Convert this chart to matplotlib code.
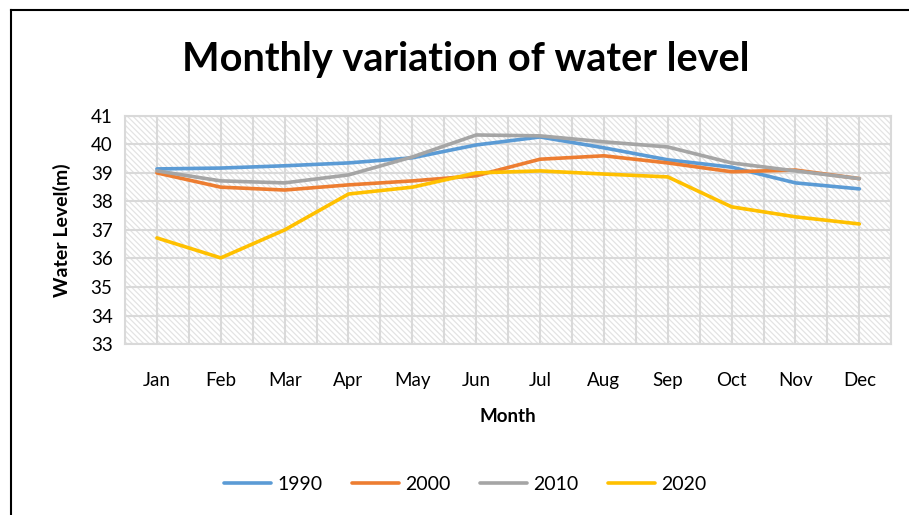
import matplotlib.pyplot as plt
from matplotlib.patches import Rectangle
from matplotlib.lines import Line2D

months = ["Jan", "Feb", "Mar", "Apr", "May", "Jun", "Jul", "Aug", "Sep", "Oct", "Nov", "Dec"]
y1990 = [39.14, 39.17, 39.25, 39.35, 39.53, 39.98, 40.26, 39.88, 39.46, 39.20, 38.65, 38.44]
y2000 = [39.00, 38.50, 38.40, 38.58, 38.72, 38.90, 39.48, 39.60, 39.35, 39.04, 39.10, 38.80]
y2010 = [39.07, 38.72, 38.65, 38.93, 39.56, 40.33, 40.30, 40.09, 39.91, 39.35, 39.07, 38.80]
y2020 = [36.72, 36.02, 37.00, 38.26, 38.50, 39.00, 39.07, 38.96, 38.86, 37.81, 37.46, 37.21]

series = [("1990", y1990, "#5B9BD5"), ("2000", y2000, "#ED7D31"),
          ("2010", y2010, "#A5A5A5"), ("2020", y2020, "#FFC000")]

plt.rcParams['font.family'] = ['Lato', 'DejaVu Sans']
plt.rcParams['hatch.linewidth'] = 0.9

fig = plt.figure(figsize=(9.09, 5.15), dpi=100)
ax = fig.add_axes([0.1375, 0.332, 0.843, 0.443])

x = list(range(len(months)))
# hatched plot-area fill
ax.add_patch(Rectangle((-0.5, 33), 12, 8, facecolor='white', edgecolor='#e3e3e3',
                       linewidth=0, hatch='\\' * 6, zorder=0))
for i in range(25):
    ax.axvline(-0.5 + i * 0.5, color='#d9d9d9', lw=1.5, zorder=1)
for v in range(33, 42):
    ax.axhline(v, color='#d9d9d9', lw=1.5, zorder=1)

for name, ys, c in series:
    ax.plot(x, ys, color=c, lw=2.6, label=name, zorder=3, solid_capstyle='round')

ax.set_xlim(-0.5, 11.5)
ax.set_ylim(33, 41)
ax.set_yticks(range(33, 42))
ax.set_xticks(x)
ax.set_xticklabels(months)
ax.tick_params(length=0, labelsize=13.5, colors='#000000')
ax.tick_params(axis='x', pad=20)
ax.tick_params(axis='y', pad=9)
for s in ax.spines.values():
    s.set_color('#d9d9d9')
    s.set_linewidth(1.5)

ax.set_xlabel("Month", fontsize=13.5, fontweight='bold', labelpad=14)
ax.set_ylabel("Water Level(m)", fontsize=14, fontweight='bold', labelpad=14)

fig.text(0.512, 0.885, "Monthly variation of water level", ha='center', va='center',
         fontsize=28.5, fontweight='bold')

handles = [Line2D([0], [0], color=c, lw=2.6, solid_capstyle='round') for _, _, c in series]
fig.legend(handles, [s[0] for s in series], loc='center', bbox_to_anchor=(0.512, 0.06),
           ncol=4, frameon=False, fontsize=14, handlelength=2.4, columnspacing=1.5,
           handletextpad=0.35)

fig.add_artist(Line2D([0.012, 0.012], [0, 0.981], color='black', lw=1.5, transform=fig.transFigure))
fig.add_artist(Line2D([0.012, 1.0], [0.981, 0.981], color='black', lw=1.5, transform=fig.transFigure))

fig.savefig("out.png", dpi=100)
